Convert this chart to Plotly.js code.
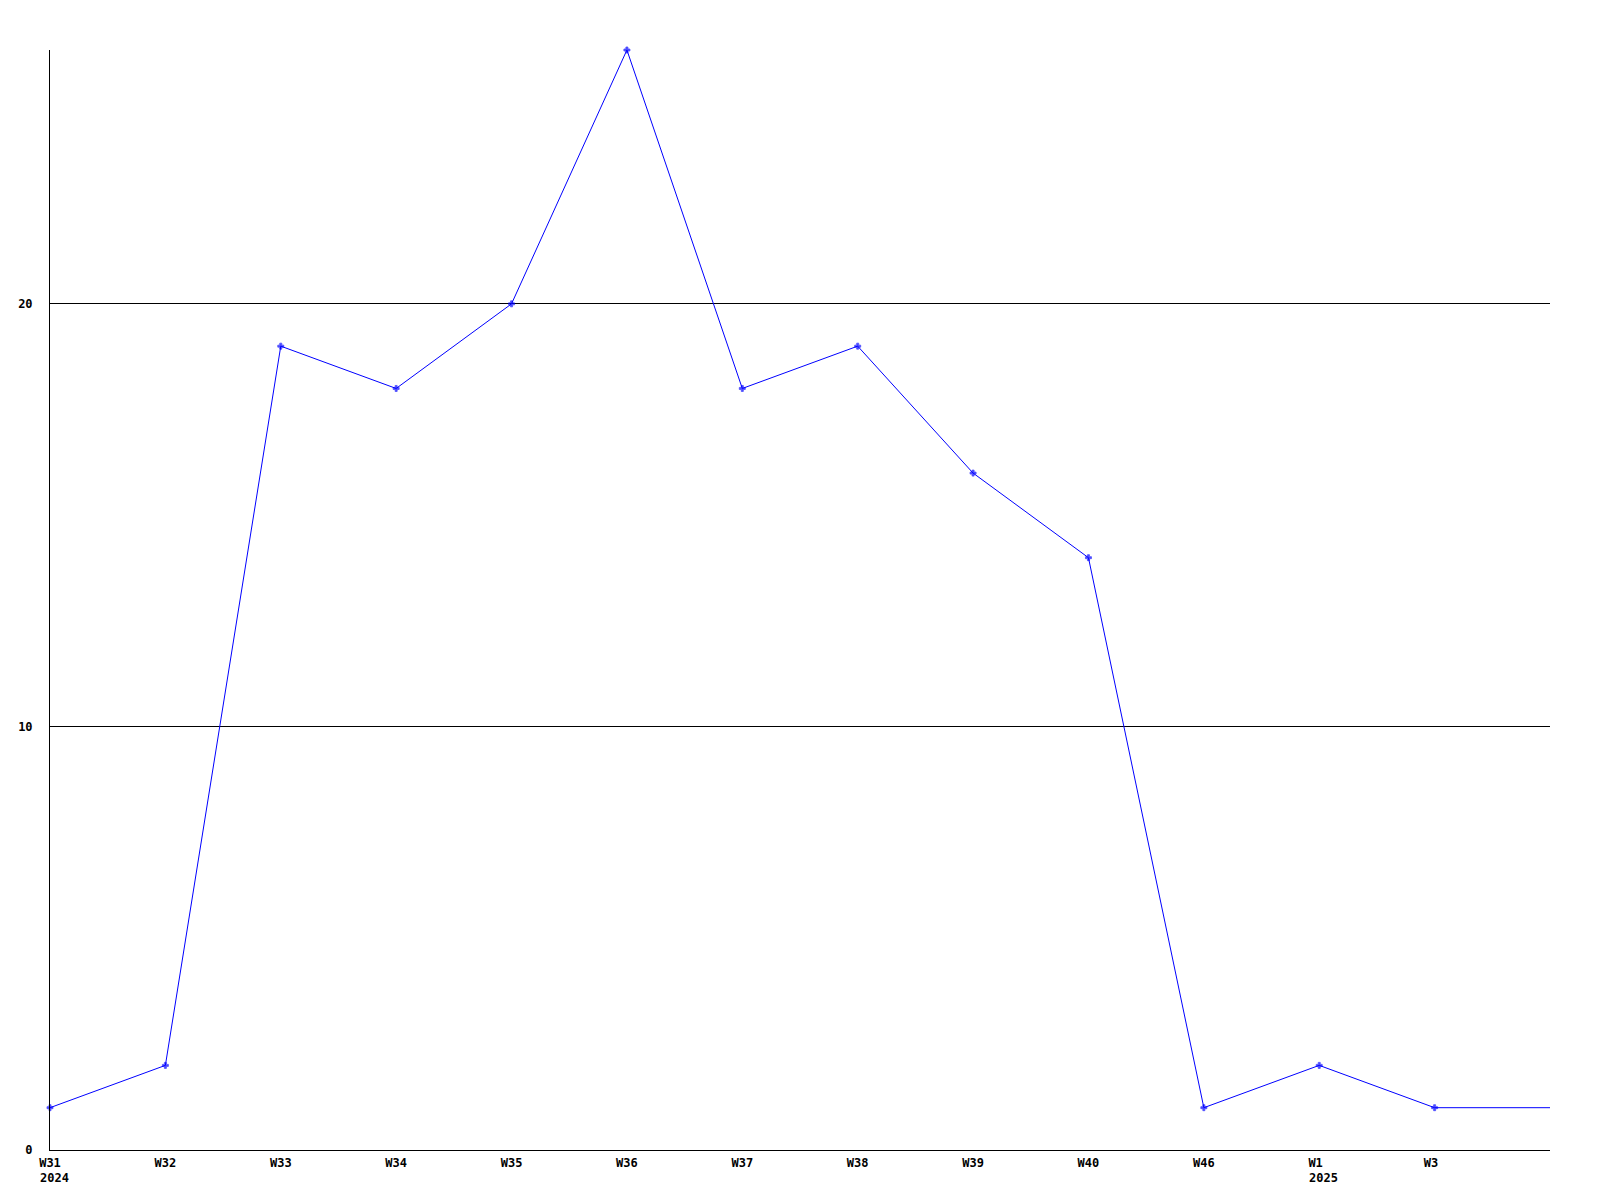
<!DOCTYPE html>
<html>
<head>
<meta charset="utf-8">
<script src="https://cdn.plot.ly/plotly-3.0.1.min.js"></script>
<style>html,body{margin:0;padding:0;background:#fff;}#chart{width:1600px;height:1200px;}</style>
</head>
<body>
<div id="chart"></div>
<script>
// Data
const weekLabels = ["W31","W32","W33","W34","W35","W36","W37","W38","W39","W40","W46","W1","W3",""];
const values     = [1, 2, 19, 18, 20, 26, 18, 19, 16, 14, 1, 2, 1, 1];
const yearLabels = [{at: 0, text: "2024"}, {at: 11, text: "2025"}];
const yTicks = [0, 10, 20];

const xs = weekLabels.map((_, i) => i);
const fontFamily = '"DejaVu Sans Mono", "Liberation Mono", monospace';
const tickFont = {family: fontFamily, size: 12, color: '#000', weight: 'bold'};
const charW = 12 * 0.602;
const labelWidth = 3; // labels are left-aligned in a 3-character cell centred on the tick

const pad = s => s + '&nbsp;'.repeat(Math.max(0, labelWidth - s.length));

const trace = {
  x: xs, y: values, type: 'scatter', mode: 'lines+markers',
  line: {color: '#0000ff', width: 1},
  marker: {
    color: '#0000ff', symbol: 'cross',
    size: weekLabels.map(l => l === "" ? 0 : 5),
    line: {color: '#0000ff', width: weekLabels.map(l => l === "" ? 0 : 0.8)}
  },
  cliponaxis: false,
  hoverinfo: 'skip'
};

const annotations = yearLabels.map(y => ({
  x: y.at, xref: 'x', y: 0, yref: 'paper',
  text: y.text, showarrow: false,
  xanchor: 'left', yanchor: 'top',
  xshift: -(labelWidth * charW) / 2 - 1,
  yshift: -19,
  font: tickFont
}));

const layout = {
  width: 1600, height: 1200,
  margin: {l: 50, r: 50, t: 50, b: 50},
  paper_bgcolor: '#fff', plot_bgcolor: '#fff',
  showlegend: false,
  xaxis: {
    range: [0, xs.length - 1],
    tickvals: xs.filter(i => weekLabels[i] !== ""),
    ticktext: weekLabels.filter(l => l !== "").map(pad),
    showgrid: false, zeroline: false,
    showline: true, linecolor: '#000', linewidth: 1,
    ticks: '', tickfont: tickFont, ticklabelstandoff: 2
  },
  yaxis: {
    range: [0, 26],
    tickvals: yTicks, ticktext: yTicks.map(String),
    showgrid: true, gridcolor: '#000', gridwidth: 1,
    zeroline: false,
    showline: true, linecolor: '#000', linewidth: 1,
    ticks: '', tickfont: tickFont, ticklabelstandoff: 14
  },
  annotations: annotations
};

Plotly.newPlot('chart', [trace], layout, {staticPlot: true, displayModeBar: false});
</script>
</body>
</html>
